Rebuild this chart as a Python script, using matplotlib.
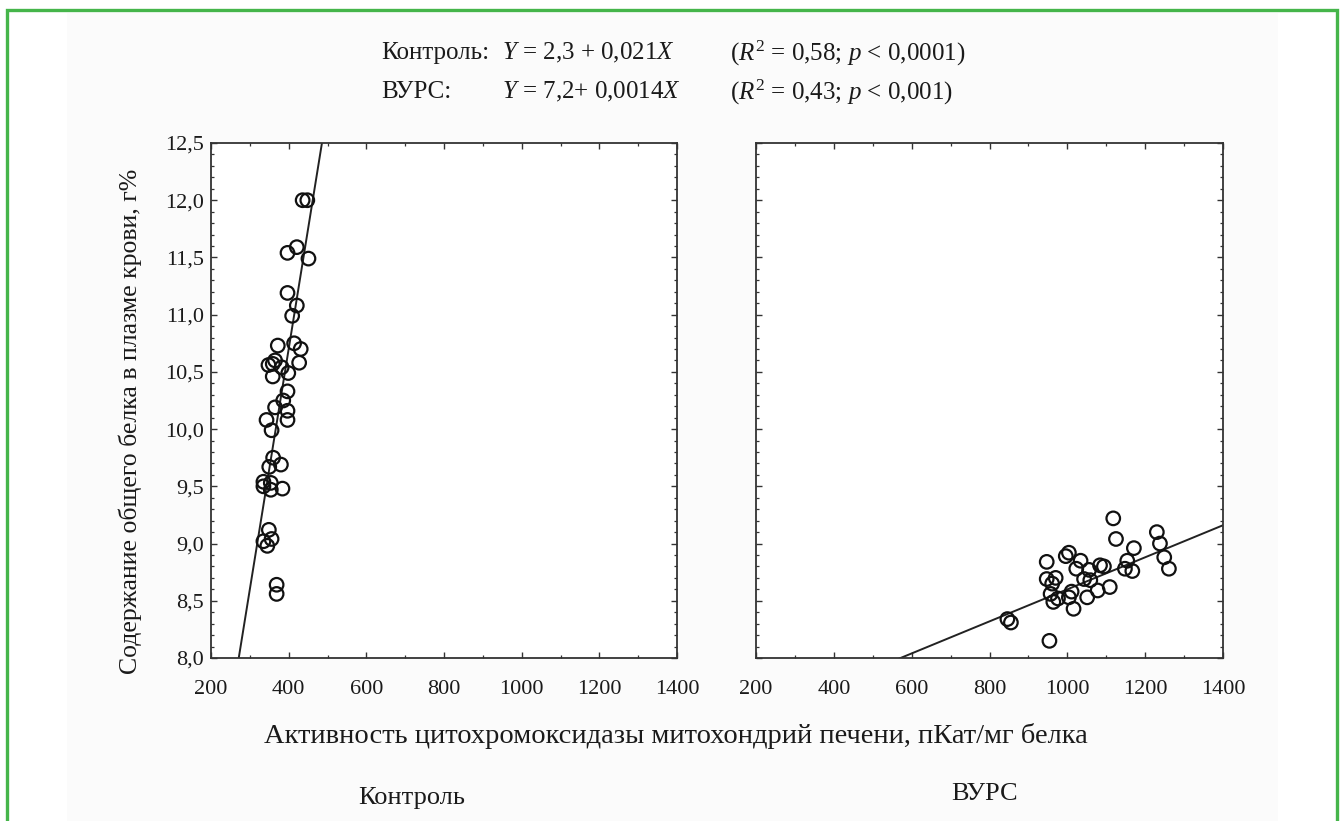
import matplotlib
matplotlib.use("Agg")
import matplotlib.pyplot as plt
from matplotlib.ticker import MultipleLocator, FuncFormatter
from matplotlib.lines import Line2D
from matplotlib.patches import Rectangle
import numpy as np

plt.rcParams['font.family'] = ['Liberation Serif', 'DejaVu Serif']
plt.rcParams['mathtext.fontset'] = 'custom'
plt.rcParams['mathtext.rm'] = 'Liberation Serif'
plt.rcParams['mathtext.it'] = 'Liberation Serif:italic'

# ---- data ----
control_x = [436, 448, 421, 397, 451, 397, 421, 409, 372, 414, 431, 348, 365, 359,
             382, 399, 427, 359, 397, 386, 365, 397, 343, 397, 356, 360, 350, 380,
             335, 335, 354, 354, 384, 349, 335, 356, 345, 369, 369]
control_y = [12.0, 12.0, 11.59, 11.54, 11.49, 11.19, 11.08, 10.99, 10.73, 10.75, 10.70,
             10.56, 10.60, 10.57, 10.54, 10.49, 10.58, 10.46, 10.33, 10.25, 10.19, 10.16,
             10.08, 10.08, 9.99, 9.75, 9.67, 9.69, 9.54, 9.50, 9.53, 9.47, 9.48, 9.12,
             9.02, 9.04, 8.98, 8.64, 8.56]
vurs_x = [1118, 1125, 947, 996, 1004, 1034, 1023, 1056, 1084, 1094, 947, 970, 961,
          1043, 1059, 957, 1011, 1004, 976, 964, 1051, 1078, 1109, 1016, 846, 855,
          954, 1171, 1154, 1148, 1167, 1230, 1238, 1249, 1261]
vurs_y = [9.22, 9.04, 8.84, 8.89, 8.92, 8.85, 8.78, 8.77, 8.81, 8.80, 8.69, 8.70, 8.65,
          8.69, 8.68, 8.56, 8.58, 8.53, 8.52, 8.49, 8.53, 8.59, 8.62, 8.43, 8.34, 8.31,
          8.15, 8.96, 8.85, 8.78, 8.76, 9.10, 9.00, 8.88, 8.78]
control_fit = (2.3, 0.021)   # intercept, slope
vurs_fit = (7.2, 0.0014)
x_ticks = [200, 400, 600, 800, 1000, 1200, 1400]
y_ticks = [8.0, 8.5, 9.0, 9.5, 10.0, 10.5, 11.0, 11.5, 12.0, 12.5]
header1 = ["Контроль:", "$Y$ = 2,3 + 0,021$X$", "($R^2$ = 0,58; $p$ < 0,0001)"]
header2 = ["ВУРС:", "$Y$ = 7,2+ 0,0014$X$", "($R^2$ = 0,43; $p$ < 0,001)"]
ylabel = "Содержание общего белка в плазме крови, г%"
xlabel = "Активность цитохромоксидазы митохондрий печени, пКат/мг белка"
panel_names = ["Контроль", "ВУРС"]

W, H = 1341, 821
fig = plt.figure(figsize=(W / 100, H / 100), dpi=100)
fig.patch.set_facecolor('white')

def fx(px):
    return px / W

def fy(py):
    return 1 - py / H

# faint grey background area
fig.patches.append(Rectangle((fx(67), 0), fx(1278) - fx(67), fy(13), transform=fig.transFigure,
                             facecolor='#fbfbfb', edgecolor='none', zorder=-10))
# green frame (no bottom)
green = '#45b54a'
fig.add_artist(Line2D([fx(7), fx(7), fx(1337), fx(1337)], [0, fy(10), fy(10), 0],
                      transform=fig.transFigure, color=green, lw=2.4, solid_joinstyle='miter'))

ax_bottom, ax_top = 658, 143
axes = []
for left, right in [(211, 677), (756, 1223)]:
    ax = fig.add_axes([fx(left), fy(ax_bottom), fx(right) - fx(left), (ax_bottom - ax_top) / H])
    ax.set_facecolor('white')
    axes.append(ax)

ytick_fmt = FuncFormatter(lambda v, p: f"{v:.1f}".replace('.', ','))
for i, (ax, xs, ys, fit) in enumerate(zip(axes, [control_x, vurs_x], [control_y, vurs_y],
                                          [control_fit, vurs_fit])):
    ax.set_xlim(x_ticks[0], x_ticks[-1])
    ax.set_ylim(y_ticks[0], y_ticks[-1])
    ax.set_xticks(x_ticks)
    ax.set_yticks(y_ticks)
    ax.xaxis.set_minor_locator(MultipleLocator(100))
    ax.yaxis.set_minor_locator(MultipleLocator(0.1))
    ax.yaxis.set_major_formatter(ytick_fmt)
    ax.tick_params(which='both', direction='in', top=True, right=True, color='#333333',
                   labelsize=16, labelcolor='#1a1a1a')
    ax.tick_params(which='major', length=4, width=1.0)
    ax.tick_params(which='minor', length=2.2, width=0.9)
    ax.tick_params(axis='x', pad=16)
    ax.tick_params(axis='y', pad=5)
    if i == 1:
        ax.tick_params(axis='y', labelleft=False)
    for s in ax.spines.values():
        s.set_linewidth(1.3)
        s.set_color('#333333')
    xx = np.array([x_ticks[0], x_ticks[-1]])
    ax.plot(xx, fit[0] + fit[1] * xx, color='#222222', lw=1.4, zorder=2)
    ax.scatter(xs, ys, s=95, facecolors='none', edgecolors='#111111', linewidths=1.6, zorder=3)

# header
for row, (pieces, py) in enumerate([(header1, 53), (header2, 92)]):
    for txt, px in zip(pieces, [381, 502, 730]):
        fig.text(fx(px), fy(py), txt, ha='left', va='center', fontsize=18, color='#1a1a1a')

fig.text(fx(130), fy(421), ylabel, rotation=90, ha='center', va='center', fontsize=18.5,
         color='#1a1a1a')
fig.text(fx(676), fy(736), xlabel, ha='center', va='center', fontsize=20.5, color='#1a1a1a')
fig.text(fx(412), fy(798), panel_names[0], ha='center', va='center', fontsize=19, color='#1a1a1a')
fig.text(fx(985), fy(794), panel_names[1], ha='center', va='center', fontsize=19, color='#1a1a1a')

fig.savefig("out.png", dpi=100)
